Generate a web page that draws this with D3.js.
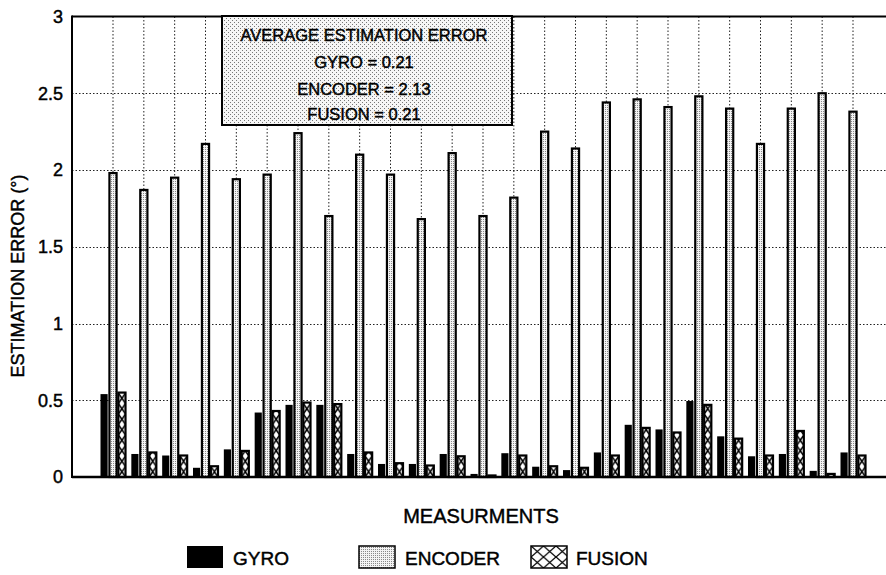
<!DOCTYPE html>
<html>
<head>
<meta charset="utf-8">
<script src="https://cdn.jsdelivr.net/npm/d3@7"></script>
<style>
  html, body { margin: 0; padding: 0; background: #fff; }
  svg { display: block; font-family: "Liberation Sans", Arial, Helvetica, sans-serif; }
  svg text { stroke: #000; stroke-width: 0.45px; }
</style>
</head>
<body>
<svg id="chart" width="886" height="575"></svg>
<script>
// ---- data ----
const measurements = d3.range(1, 26);
const seriesNames = ["GYRO", "ENCODER", "FUSION"];
const gyro    = [0.54,0.15,0.14,0.06,0.18,0.42,0.47,0.47,0.15,0.085,0.085,0.15,0.02,0.155,0.067,0.045,0.16,0.34,0.31,0.495,0.265,0.135,0.15,0.04,0.16];
const encoder = [1.98,1.87,1.95,2.17,1.94,1.97,2.24,1.70,2.10,1.97,1.68,2.11,1.70,1.82,2.25,2.14,2.44,2.46,2.41,2.48,2.40,2.17,2.40,2.50,2.38];
const fusion  = [0.55,0.16,0.14,0.07,0.17,0.43,0.485,0.475,0.16,0.09,0.075,0.135,0.01,0.14,0.07,0.06,0.14,0.32,0.29,0.47,0.25,0.14,0.30,0.02,0.14];
const yTicks = [0, 0.5, 1, 1.5, 2, 2.5, 3];
const yTickLabels = ["0", "0.5", "1", "1.5", "2", "2.5", "3"];
const boxLines = ["AVERAGE ESTIMATION ERROR", "GYRO = 0.21", "ENCODER = 2.13", "FUSION = 0.21"];
const yTitle = "ESTIMATION ERROR (°)";
const xTitle = "MEASURMENTS";

const values = { GYRO: gyro, ENCODER: encoder, FUSION: fusion };

// ---- layout ----
const svg = d3.select("#chart");
const plotL = 72, plotR = 886, plotT = 16.5, plotB = 477;

const x = d3.scalePoint().domain(measurements).range([113, 853]);
const xs = d3.scaleBand().domain(seriesNames).range([-12.5, 12.5]).paddingInner(0.2);
const y = d3.scaleLinear().domain([0, 3]).range([plotB, plotT]);

const defs = svg.append("defs");
// encoder stipple
const pe = defs.append("pattern").attr("id", "stip").attr("patternUnits", "userSpaceOnUse")
  .attr("width", 2).attr("height", 2);
pe.append("rect").attr("width", 2).attr("height", 2).attr("fill", "#f4f4f4");
pe.append("rect").attr("x", 1).attr("y", 1).attr("width", 1).attr("height", 1).attr("fill", "#8a8a8a");
// box stipple
const pb = defs.append("pattern").attr("id", "boxstip").attr("patternUnits", "userSpaceOnUse")
  .attr("width", 4).attr("height", 4);
pb.append("rect").attr("width", 4).attr("height", 4).attr("fill", "#f6f6f6");
pb.append("rect").attr("x", 0).attr("y", 0).attr("width", 1).attr("height", 1).attr("fill", "#777");
pb.append("rect").attr("x", 2).attr("y", 2).attr("width", 1).attr("height", 1).attr("fill", "#777");

// ---- grid ----
const grid = svg.append("g");
grid.selectAll("line.h").data(yTicks.filter(t => t > 0 && t < 3)).join("line")
  .attr("x1", plotL).attr("x2", plotR)
  .attr("y1", d => Math.round(y(d)) + 0.5).attr("y2", d => Math.round(y(d)) + 0.5)
  .attr("stroke", "#222").attr("stroke-width", 1).attr("stroke-dasharray", "1.5,2");
grid.selectAll("line.v").data(measurements).join("line")
  .attr("x1", d => x(d)).attr("x2", d => x(d))
  .attr("y1", plotT).attr("y2", plotB)
  .attr("stroke", "#222").attr("stroke-width", 1).attr("stroke-dasharray", "1.5,2");

// ---- bars ----
const bw = xs.bandwidth();
defs.selectAll("pattern.fx").data(measurements).join("pattern")
  .attr("class", "fx")
  .attr("id", d => "fx" + d)
  .attr("patternUnits", "userSpaceOnUse")
  .attr("x", d => x(d) + xs("FUSION")).attr("y", y(0))
  .attr("width", bw).attr("height", 10.5)
  .each(function() {
    const p = d3.select(this);
    p.append("rect").attr("width", bw).attr("height", 10.5).attr("fill", "#fff");
    p.append("line").attr("x1", 0).attr("y1", 0).attr("x2", bw).attr("y2", 10.5).attr("stroke", "#000").attr("stroke-width", 1.5);
    p.append("line").attr("x1", bw).attr("y1", 0).attr("x2", 0).attr("y2", 10.5).attr("stroke", "#000").attr("stroke-width", 1.5);
  });

const groups = svg.append("g").selectAll("g").data(measurements).join("g");
groups.each(function(m, i) {
  const g = d3.select(this);
  seriesNames.forEach(s => {
    const v = values[s][i];
    const r = g.append("rect")
      .attr("x", x(m) + xs(s))
      .attr("y", y(v))
      .attr("width", bw)
      .attr("height", y(0) - y(v));
    if (s === "GYRO") r.attr("fill", "#000");
    else if (s === "ENCODER") r.attr("fill", "url(#stip)").attr("stroke", "#000").attr("stroke-width", 2.2);
    else r.attr("fill", "url(#fx" + m + ")").attr("stroke", "#000").attr("stroke-width", 2.2);
  });
});

// ---- frame ----
svg.append("line").attr("x1", plotL).attr("x2", plotR).attr("y1", plotT).attr("y2", plotT)
  .attr("stroke", "#000").attr("stroke-width", 2);
svg.append("line").attr("x1", plotL).attr("x2", plotR).attr("y1", plotB).attr("y2", plotB)
  .attr("stroke", "#000").attr("stroke-width", 2.5);
svg.append("line").attr("x1", plotL).attr("x2", plotL).attr("y1", plotT - 1).attr("y2", plotB + 1)
  .attr("stroke", "#000").attr("stroke-width", 2);

// ---- y axis labels ----
const yAxis = d3.axisLeft(y).tickValues(yTicks).tickSize(0).tickPadding(9)
  .tickFormat((d, i) => yTickLabels[i]);
const ya = svg.append("g").attr("transform", `translate(${plotL},0)`).call(yAxis);
ya.select(".domain").remove();
ya.selectAll("text").attr("font-size", 18).attr("fill", "#000")
  .attr("font-family", "'Liberation Sans', Arial, sans-serif");

svg.append("text").attr("transform", "translate(24,276) rotate(-90)")
  .attr("text-anchor", "middle").attr("font-size", 18).attr("fill", "#000").text(yTitle);

svg.append("text").attr("x", 481).attr("y", 523).attr("text-anchor", "middle")
  .attr("font-size", 20).attr("fill", "#000").text(xTitle);

// ---- average box ----
svg.append("rect").attr("x", 222).attr("y", 16).attr("width", 290).attr("height", 109)
  .attr("fill", "url(#boxstip)").attr("stroke", "#000").attr("stroke-width", 2);
const boxY = [41, 68, 95, 120];
svg.selectAll("text.box").data(boxLines).join("text")
  .attr("class", "box")
  .attr("x", 364).attr("y", (d, i) => boxY[i]).attr("text-anchor", "middle")
  .attr("font-size", 16.5).attr("fill", "#000").text(d => d);

// ---- legend ----
const legX = [187, 359, 531];
const legTextX = [233, 405, 576];
const lp = defs.append("pattern").attr("id", "legx").attr("patternUnits", "userSpaceOnUse")
  .attr("x", 531).attr("y", 546).attr("width", 12.5).attr("height", 11);
lp.append("rect").attr("width", 12.5).attr("height", 11).attr("fill", "#fff");
lp.append("line").attr("x1", 0).attr("y1", 0).attr("x2", 12.5).attr("y2", 11).attr("stroke", "#000").attr("stroke-width", 1.3);
lp.append("line").attr("x1", 12.5).attr("y1", 0).attr("x2", 0).attr("y2", 11).attr("stroke", "#000").attr("stroke-width", 1.3);
const legFill = { GYRO: "#000", ENCODER: "url(#stip)", FUSION: "url(#legx)" };
const leg = svg.append("g").selectAll("g").data(seriesNames).join("g");
leg.append("rect").attr("x", (d, i) => legX[i]).attr("y", 546).attr("width", 36).attr("height", 22)
  .attr("fill", d => legFill[d]).attr("stroke", "#000").attr("stroke-width", d => d === "GYRO" ? 0 : 1.5);
leg.append("text").attr("x", (d, i) => legTextX[i]).attr("y", 565)
  .attr("font-size", 19).attr("fill", "#000").text(d => d);
</script>
</body>
</html>
